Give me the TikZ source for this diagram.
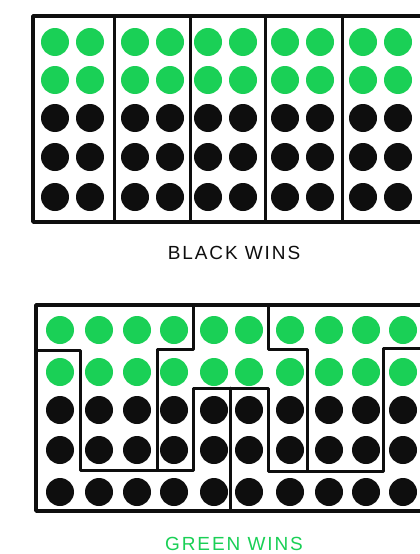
\documentclass[tikz,border=0pt]{standalone}
\usepackage{fontspec}
\newfontfamily\hand[LetterSpace=10]{Liberation Sans}
\definecolor{grn}{RGB}{26,208,86}
\definecolor{ink}{RGB}{14,14,14}
\begin{document}
\begin{tikzpicture}[x=1pt,y=-1pt, line join=round, line cap=round,
  outer/.style={draw=ink, line width=3.6pt},
  inner/.style={draw=ink, line width=3pt},
  label/.style={font=\hand\fontsize{19}{19}\selectfont, inner sep=0pt}]
\useasboundingbox (0,0) rectangle (420,554);
\fill[white] (0,0) rectangle (420,554);
\clip (0,0) rectangle (420,554);
% ---------- top grid ----------
\foreach \x in {55,90,135,170,208,243,285,320,363,398}{
  \foreach \y/\c in {42/grn,80/grn,118/ink,157/ink,197/ink}{
    \fill[\c] (\x,\y) circle (14);
  }
}
\draw[outer] (33,16) rectangle (460,222);
\foreach \x in {114,190,265,342}{
  \draw[inner] (\x,16) -- (\x,222);
}
\node[label, text=ink] (blackwins) at (234,253) {BLACK WINS};
% ---------- bottom grid ----------
\foreach \x in {60,99,137,174,214,249,290,329,366,403}{
  \foreach \y/\c in {330/grn,372/grn,410/ink,450/ink,492/ink}{
    \fill[\c] (\x,\y) circle (14);
  }
}
\draw[outer] (36,305) rectangle (460,511);
% line A
\draw[inner] (36,350) -- (80,350) -- (80,470) -- (193,470) -- (193,388) -- (268,388) -- (268,471) -- (383,471) -- (383,348) -- (460,348);
% line B
\draw[inner] (193,305) -- (193,349) -- (157,349) -- (157,470);
% line C
\draw[inner] (268,305) -- (268,349) -- (307,349) -- (307,471);
% line D
\draw[inner] (230,388) -- (230,511);
\node[label, text=grn] (greenwins) at (234,544) {GREEN WINS};
\end{tikzpicture}
\end{document}
